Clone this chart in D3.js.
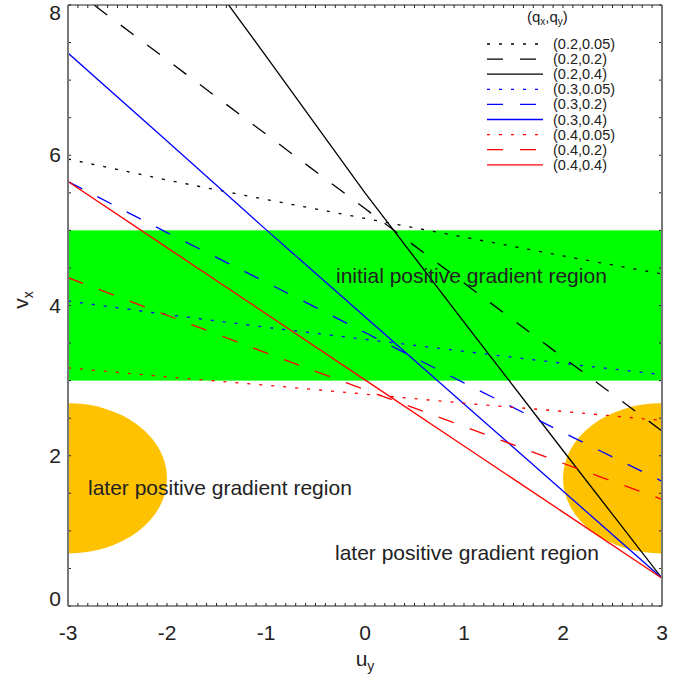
<!DOCTYPE html>
<html>
<head>
<meta charset="utf-8">
<script src="https://cdn.jsdelivr.net/npm/d3@7"></script>
<style>
  body { margin: 0; background: #fff; }
  text { font-family: "Liberation Sans", Arial, sans-serif; fill: #222; }
</style>
</head>
<body>
<svg id="chart" width="697" height="679"></svg>
<script>
// u_y sample points
const uGrid = [-3, -2, -1, 0, 1, 2, 3];

// v_x, one array per (q_x,q_y)
const v02_005 = [5.95, 5.67, 5.41, 5.16, 4.91, 4.66, 4.42];
const v02_02  = [8.26, 7.27, 6.28, 5.29, 4.30, 3.31, 2.33];
const v02_04  = [10.95, 9.12, 7.32, 5.50, 3.78, 2.07, 0.37];
const v03_005 = [4.06, 3.88, 3.71, 3.55, 3.39, 3.23, 3.08];
const v03_02  = [5.65, 4.97, 4.31, 3.64, 2.97, 2.31, 1.66];
const v03_04  = [7.36, 6.19, 5.01, 3.85, 2.69, 1.53, 0.37];
const v04_005 = [3.17, 3.05, 2.94, 2.82, 2.70, 2.59, 2.47];
const v04_02  = [4.37, 3.87, 3.37, 2.88, 2.39, 1.90, 1.42];
const v04_04  = [5.65, 4.77, 3.89, 3.01, 2.13, 1.25, 0.37];

const seriesNames = ["(0.2,0.05)", "(0.2,0.2)", "(0.2,0.4)",
                     "(0.3,0.05)", "(0.3,0.2)", "(0.3,0.4)",
                     "(0.4,0.05)", "(0.4,0.2)", "(0.4,0.4)"];
const seriesValues = [v02_005, v02_02, v02_04, v03_005, v03_02, v03_04, v04_005, v04_02, v04_04];
const seriesColors = ["black", "black", "black", "blue", "blue", "blue", "red", "red", "red"];
const seriesDash = ["3,9", "16,17", null, "3,9", "16,17", null, "3,9", "16,17", null];

const xTicks = [-3, -2, -1, 0, 1, 2, 3];
const yTicks = [0, 2, 4, 6, 8];

// regions
const greenBand = [3, 5];
const ellipses = [{cu: -3, cv: 1.7, ru: 1, rv: 1}, {cu: 3, cv: 1.7, ru: 1, rv: 1}];

const svg = d3.select("#chart");
const pL = 68, pR = 662, pT = 5, pB = 606;

const x = d3.scaleLinear().domain([-3, 3]).range([pL, pR]);
const y = d3.scaleLinear().domain([0, 8]).range([pB, pT]);

svg.append("clipPath").attr("id", "plotclip")
  .append("rect")
  .attr("x", pL).attr("y", pT)
  .attr("width", pR - pL).attr("height", pB - pT);

const plot = svg.append("g").attr("clip-path", "url(#plotclip)");

// green band
plot.append("rect")
  .attr("x", pL)
  .attr("y", y(greenBand[1]))
  .attr("width", pR - pL)
  .attr("height", y(greenBand[0]) - y(greenBand[1]))
  .attr("fill", "#0f0");

// orange ellipses
plot.selectAll(".ell")
  .data(ellipses)
  .enter().append("ellipse")
  .attr("cx", d => x(d.cu))
  .attr("cy", d => y(d.cv))
  .attr("rx", d => x(d.ru) - x(0))
  .attr("ry", d => y(0) - y(d.rv))
  .attr("fill", "#ffc200");

// region labels
svg.append("text").attr("x", 336).attr("y", 283).attr("font-size", 21).text("initial positive gradient region");
svg.append("text").attr("x", 88).attr("y", 495).attr("font-size", 21).text("later positive gradient region");
svg.append("text").attr("x", 335).attr("y", 560).attr("font-size", 21).text("later positive gradient region");

// curves
const line = d3.line()
  .x((d, i) => x(uGrid[i]))
  .y(d => y(d));

seriesValues.forEach((vals, k) => {
  plot.append("path")
    .datum(vals)
    .attr("d", line)
    .attr("fill", "none")
    .attr("stroke", seriesColors[k])
    .attr("stroke-width", 1.3)
    .attr("stroke-dasharray", seriesDash[k]);
});

// minor ticks
const xMinor = d3.range(-3, 3.0001, 0.1);
const yMinor = d3.range(0, 8.0001, 0.5);
const tk = svg.append("g").attr("stroke", "#222").attr("stroke-width", 1);
xMinor.forEach(u => {
  tk.append("line").attr("x1", x(u)).attr("x2", x(u)).attr("y1", pB).attr("y2", pB - 3);
  tk.append("line").attr("x1", x(u)).attr("x2", x(u)).attr("y1", pT).attr("y2", pT + 3);
});
yMinor.forEach(v => {
  tk.append("line").attr("x1", pL).attr("x2", pL + 3).attr("y1", y(v)).attr("y2", y(v));
  tk.append("line").attr("x1", pR).attr("x2", pR - 3).attr("y1", y(v)).attr("y2", y(v));
});

// frame
svg.append("line").attr("x1", pL).attr("x2", pR).attr("y1", pT).attr("y2", pT).attr("stroke", "#222").attr("stroke-width", 1.2);
svg.append("line").attr("x1", pL).attr("x2", pR).attr("y1", pB).attr("y2", pB).attr("stroke", "#222").attr("stroke-width", 1.2);
svg.append("line").attr("x1", pL).attr("x2", pL).attr("y1", pT).attr("y2", pB).attr("stroke", "#777").attr("stroke-width", 2);
svg.append("line").attr("x1", pR).attr("x2", pR).attr("y1", pT).attr("y2", pB).attr("stroke", "#777").attr("stroke-width", 2);

// tick labels
svg.selectAll(".xl").data(xTicks).enter().append("text")
  .attr("x", d => x(d)).attr("y", 640)
  .attr("text-anchor", "middle").attr("font-size", 21)
  .text(d => d);
svg.selectAll(".yl").data(yTicks).enter().append("text")
  .attr("x", 61)
  .attr("y", d => d === 8 ? 20 : (d === 0 ? 606 : y(d) + 7))
  .attr("text-anchor", "end").attr("font-size", 21)
  .text(d => d);

// axis titles
const xt = svg.append("text").attr("x", 365).attr("y", 666).attr("text-anchor", "middle").attr("font-size", 21);
xt.append("tspan").text("u");
xt.append("tspan").attr("font-size", 14).attr("dy", 5).text("y");

const yt = svg.append("text").attr("transform", "translate(28,300) rotate(-90)").attr("text-anchor", "middle").attr("font-size", 21);
yt.append("tspan").text("v");
yt.append("tspan").attr("font-size", 14).attr("dy", 5).text("x");

// legend
const lt = svg.append("text").attr("x", 527).attr("y", 22).attr("font-size", 15);
lt.append("tspan").text("(q");
lt.append("tspan").attr("font-size", 10).attr("dy", 3).text("x");
lt.append("tspan").attr("dy", -3).text(",q");
lt.append("tspan").attr("font-size", 10).attr("dy", 3).text("y");
lt.append("tspan").attr("dy", -3).text(")");

const lg = svg.append("g");
seriesNames.forEach((name, k) => {
  const ly = 44 + k * 15.1;
  lg.append("line")
    .attr("x1", 487).attr("x2", 543).attr("y1", ly).attr("y2", ly)
    .attr("stroke", seriesColors[k]).attr("stroke-width", 1.3)
    .attr("stroke-dasharray", seriesDash[k]);
  lg.append("text").attr("x", 553).attr("y", ly + 5).attr("font-size", 14.5).text(name);
});
</script>
</body>
</html>
